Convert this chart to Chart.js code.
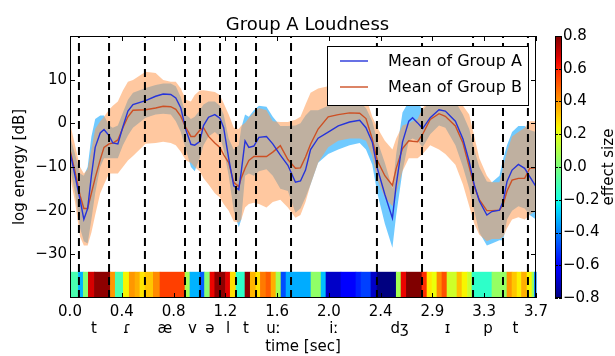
<!DOCTYPE html>
<html>
<head>
<meta charset="utf-8">
<script src="https://cdn.jsdelivr.net/npm/chart.js@4.4.1/dist/chart.umd.min.js"></script>
<style>
  html, body { margin: 0; padding: 0; background: #fff; }
</style>
</head>
<body>
<canvas id="loudness" width="615" height="356"></canvas>
<script>
// time axis (sec) shared by all curves
const times = [0.00, 0.04, 0.08, 0.11, 0.14, 0.17, 0.20, 0.24, 0.27, 0.31, 0.34, 0.38, 0.42, 0.46, 0.50, 0.60, 0.68, 0.74, 0.80, 0.84, 0.88, 0.92,
  0.96, 0.99, 1.03, 1.06, 1.10, 1.15, 1.19, 1.22, 1.26, 1.30, 1.34, 1.36, 1.39, 1.42, 1.46, 1.50, 1.56, 1.61, 1.67, 1.73, 1.79, 1.83, 1.87, 1.91,
  1.97, 2.05, 2.13, 2.22, 2.30, 2.35, 2.40, 2.44, 2.50, 2.56, 2.59, 2.64, 2.69, 2.72, 2.76, 2.80, 2.86, 2.93, 2.98, 3.06, 3.12, 3.17, 3.21, 3.25,
  3.31, 3.35, 3.41, 3.44, 3.47, 3.51, 3.56, 3.61, 3.65, 3.70];

const meanA = [-6.5, -12.0, -17.5, -22.0, -19.5, -12.0, -5.5, -2.2, -1.4, -2.8, -4.5, -4.7, -0.8, 2.8, 4.3, 5.2, 6.2, 6.7, 6.6, 5.8, 3.5, -1.5,
  -4.8, -5.0, -4.2, -0.5, 1.4, 2.0, 1.2, -1.0, -8.0, -14.3, -15.2, -11.0, -4.0, -5.5, -5.2, -3.2, -3.0, -4.7, -7.3, -9.6, -13.5, -13.2, -10.7, -6.0,
  -3.4, -2.0, -0.6, 0.3, 0.7, -1.0, -4.3, -10.3, -16.3, -21.7, -14.1, -4.3, 0.5, 1.3, 0.1, -1.2, 1.3, 3.1, 2.8, 0.5, -3.6, -8.8, -14.1, -17.8,
  -21.0, -20.2, -19.9, -17.8, -13.3, -10.7, -9.4, -10.3, -12.2, -14.5];
const meanB = [-6.0, -11.0, -16.5, -19.5, -19.5, -16.0, -12.5, -8.3, -5.5, -4.7, -4.5, -3.8, -1.0, 1.5, 3.0, 3.1, 3.5, 3.9, 3.8, 3.2, 1.6, -1.0,
  -3.0, -3.0, -1.6, -1.0, -3.0, -4.5, -5.5, -7.2, -9.0, -13.5, -14.5, -12.5, -10.3, -8.5, -7.6, -7.6, -7.6, -6.6, -5.1, -8.3, -10.3, -10.2, -7.7, -4.8,
  -1.3, 1.5, 2.0, 2.4, 2.3, 1.1, -3.6, -8.5, -12.0, -14.2, -10.3, -5.8, -4.0, -4.1, -4.2, -2.5, 0.9, 2.2, 1.6, -0.6, -4.5, -10.0, -14.5, -17.5,
  -20.0, -20.0, -19.9, -18.5, -15.5, -13.0, -12.6, -12.6, -10.3, -10.2];
const upperA = [-3.0, -7.0, -11.5, -12.0, -10.0, -3.0, 1.0, 1.8, 1.8, -0.5, -1.0, -0.5, 2.5, 5.4, 7.0, 8.1, 8.8, 9.1, 9.1, 8.5, 6.0, 2.0,
  1.0, 1.5, 3.0, 4.3, 5.0, 5.0, 4.0, 2.0, -3.5, -6.0, -5.0, -1.0, 2.0, 1.5, 3.0, 4.0, 3.8, 1.5, -0.6, -0.6, -0.5, 0.0, 1.8, 3.0,
  3.0, 4.0, 4.5, 4.8, 4.8, 3.5, 0.5, -4.0, -9.0, -15.0, -7.0, 2.5, 5.0, 6.0, 5.0, 3.0, 5.0, 6.0, 6.0, 5.0, 2.0, -1.3, -6.0, -10.0,
  -13.3, -13.5, -12.0, -8.0, -5.0, -2.0, -0.6, -0.6, -1.5, -2.0];
const lowerA = [-10.0, -16.0, -24.0, -27.0, -27.5, -22.0, -16.0, -10.0, -8.0, -8.0, -8.0, -8.0, -5.0, -2.8, -1.0, 1.3, 2.0, 2.2, 2.0, 0.5, -2.0, -6.0,
  -10.0, -11.0, -8.0, -5.0, -3.0, -2.0, -3.0, -6.0, -12.0, -20.0, -23.8, -22.0, -12.0, -11.5, -12.0, -11.0, -10.5, -12.0, -15.0, -15.5, -20.5, -19.5, -17.0, -14.0,
  -9.0, -7.0, -6.0, -5.0, -4.5, -6.0, -9.5, -16.0, -23.0, -28.5, -21.0, -11.0, -4.0, -3.5, -4.0, -5.5, -2.5, -0.5, -1.0, -5.0, -10.0, -15.0, -20.0, -25.0,
  -28.0, -27.5, -26.8, -26.8, -22.0, -20.0, -19.0, -19.5, -21.0, -22.0];
const upperB = [0.0, -5.0, -10.0, -11.5, -10.5, -6.0, -1.3, 0.5, 1.5, 3.1, 4.0, 5.0, 7.5, 9.5, 9.9, 11.8, 11.5, 9.9, 9.5, 9.5, 8.0, 5.4,
  5.0, 6.5, 7.5, 7.6, 7.4, 7.2, 6.5, 4.6, 2.0, -1.0, -1.3, -0.5, 0.1, 1.2, 2.4, 3.5, 3.0, 0.5, 0.3, 0.3, 0.8, 1.5, 4.3, 7.0,
  8.0, 8.5, 9.0, 9.0, 8.5, 6.0, 1.5, -1.0, -4.0, -6.0, -3.5, -0.5, 0.0, 0.5, 1.0, 3.5, 5.5, 6.0, 6.5, 6.0, 4.0, 2.0, -3.0, -8.0,
  -12.0, -13.5, -13.5, -10.0, -6.5, -3.0, -2.0, -1.0, 0.5, 0.5];
const lowerB = [-12.0, -18.0, -26.0, -28.0, -28.0, -25.0, -21.0, -16.0, -14.0, -11.5, -11.5, -11.5, -10.0, -8.5, -7.5, -4.7, -4.5, -4.2, -4.5, -5.0, -6.5, -8.5,
  -9.0, -10.0, -11.0, -12.6, -14.0, -16.0, -17.0, -18.5, -20.0, -22.5, -22.7, -22.0, -19.3, -18.5, -18.2, -18.5, -19.3, -18.0, -17.5, -19.3, -21.6, -21.0, -18.0, -14.0,
  -9.0, -5.5, -4.0, -3.5, -3.5, -4.0, -7.5, -13.0, -17.0, -19.0, -16.0, -11.0, -8.0, -8.0, -8.0, -7.0, -5.0, -6.0, -7.0, -9.5, -14.0, -19.0, -23.0, -25.5,
  -27.0, -26.5, -26.5, -26.0, -24.0, -22.0, -21.5, -22.0, -21.0, -20.0];

// phoneme boundaries (sec) and the phonemes between them
const boundaries = [0.071, 0.310, 0.595, 0.913, 1.032, 1.191, 1.318, 1.477, 1.755, 2.437, 2.795, 3.200, 3.438, 3.636];
const phonemes = ['t', 'ɾ', 'æ', 'v', 'ə', 'l', 't', 'uː', 'iː', 'dʒ', 'ɪ', 'p', 't'];

// effect size strip: segment start times and values
const effectStarts = [0, 0.064, 0.103, 0.143, 0.191, 0.318, 0.357, 0.421, 0.468, 0.514, 0.553, 0.593, 0.659, 0.712, 0.911, 0.950, 1.030, 1.066,
  1.109, 1.147, 1.233, 1.270, 1.316, 1.387, 1.429, 1.474, 1.509, 1.554, 1.594, 1.633, 1.673, 1.713, 1.911, 1.991, 2.030, 2.149, 2.268, 2.308,
  2.387, 2.435, 2.588, 2.626, 2.668, 2.792, 2.832, 2.872, 2.911, 2.951, 2.991, 3.070, 3.110, 3.154, 3.189, 3.348, 3.467, 3.507, 3.547, 3.582,
  3.626, 3.666, 3.684];
const effectValues = [-0.10, -0.32, 0.02, 0.68, 0.78, 0.40, -0.10, 0.24, 0.40, 0.36, 0.27, 0.32, 0.42, 0.55, 0.08, -0.32, -0.45, 0.02,
  0.65, 0.78, 0.66, 0.28, -0.15, 0.78, 0.35, 0.27, 0.45, 0.50, 0.36, 0.08, -0.48, -0.33, 0.04, -0.30, -0.70, -0.62, -0.55, -0.50,
  -0.70, -0.80, 0.08, 0.65, 0.80, 0.58, 0.26, 0.22, 0.42, 0.52, 0.16, 0.33, 0.24, 0.15, -0.15, 0.05, 0.40, 0.32, 0.25, 0.36,
  0.24, 0.05, -0.40];

const xTickLabels = ['0.0', '0.4', '0.8', '1.2', '1.6', '2.0', '2.4', '2.9', '3.3', '3.7'];
const yTicks = [-30, -20, -10, 0, 10];
const cbTicks = [-0.8, -0.6, -0.4, -0.2, 0.0, 0.2, 0.4, 0.6, 0.8];

const xMax = 3.7, yMin = -40, yMax = 20, stripTop = -34, cbMin = -0.8, cbMax = 0.8;
const FONT = '"DejaVu Sans"';
const minus = s => s.replace('-', '\u2212');

function pts(ys) { return times.map((t, i) => ({x: t, y: ys[i]})); }

function jet(v) {
  const n = Math.min(1, Math.max(0, (v - cbMin) / (cbMax - cbMin)));
  const seg = p => {
    for (let i = 1; i < p.length; i++) {
      if (n <= p[i][0]) return p[i-1][1] + (p[i][1] - p[i-1][1]) * (n - p[i-1][0]) / (p[i][0] - p[i-1][0]);
    }
    return p[p.length - 1][1];
  };
  const r = seg([[0, 0], [0.35, 0], [0.66, 1], [0.89, 1], [1, 0.5]]);
  const g = seg([[0, 0], [0.125, 0], [0.375, 1], [0.64, 1], [0.91, 0], [1, 0]]);
  const b = seg([[0, 0.5], [0.11, 1], [0.34, 1], [0.65, 0], [1, 0]]);
  return 'rgb(' + Math.round(r * 255) + ',' + Math.round(g * 255) + ',' + Math.round(b * 255) + ')';
}

const boundaryPts = [];
boundaries.forEach(b => { boundaryPts.push({x: b, y: yMin}, {x: b, y: yMax}, {x: b, y: null}); });

const stripPlugin = {
  id: 'effectStrip',
  beforeDatasetsDraw(chart) {
    const {ctx, scales: {x, y}} = chart;
    const top = y.getPixelForValue(stripTop), bottom = y.getPixelForValue(yMin);
    ctx.save();
    effectStarts.forEach((t0, i) => {
      const t1 = i + 1 < effectStarts.length ? effectStarts[i + 1] : xMax;
      const x0 = x.getPixelForValue(t0), x1 = x.getPixelForValue(t1);
      ctx.fillStyle = jet(effectValues[i]);
      ctx.fillRect(x0, top, x1 - x0 + 0.6, bottom - top);
    });
    ctx.restore();
  }
};

const framePlugin = {
  id: 'frame',
  afterDatasetsDraw(chart) {
    const {ctx, chartArea: a, scales: {x, y}} = chart;
    ctx.save();
    ctx.strokeStyle = '#000';
    ctx.lineWidth = 1;
    ctx.beginPath();
    x.ticks.forEach(t => {
      const px = Math.round(x.getPixelForValue(t.value)) + 0.5;
      ctx.moveTo(px, a.bottom); ctx.lineTo(px, a.bottom - 5);
      ctx.moveTo(px, a.top); ctx.lineTo(px, a.top + 5);
    });
    y.ticks.forEach(t => {
      const py = Math.round(y.getPixelForValue(t.value)) + 0.5;
      ctx.moveTo(a.left, py); ctx.lineTo(a.left + 5, py);
      ctx.moveTo(a.right, py); ctx.lineTo(a.right - 5, py);
    });
    ctx.stroke();
    ctx.strokeRect(Math.round(a.left) + 0.5, Math.round(a.top) + 0.5, Math.round(a.width) - 1, Math.round(a.height) - 1);
    ctx.restore();
  }
};

const legendPlugin = {
  id: 'insideLegend',
  afterDatasetsDraw(chart) {
    const {ctx, chartArea: a} = chart;
    const items = chart.data.datasets.filter(d => d.label);
    ctx.save();
    ctx.font = '16px ' + FONT;
    const textW = Math.max(...items.map(d => ctx.measureText(d.label).width));
    const w = Math.round(13 + 28 + 20 + textW + 6), h = 59;
    const left = Math.round(a.right - 8 - w), top = Math.round(a.top + 10);
    ctx.fillStyle = '#fff';
    ctx.fillRect(left, top, w, h);
    ctx.strokeStyle = '#000';
    ctx.lineWidth = 1;
    ctx.strokeRect(left + 0.5, top + 0.5, w, h);
    items.forEach((d, i) => {
      const cy = top + 15 + i * 26;
      ctx.strokeStyle = d.borderColor;
      ctx.lineWidth = d.borderWidth;
      ctx.beginPath(); ctx.moveTo(left + 13, cy); ctx.lineTo(left + 41, cy); ctx.stroke();
      ctx.fillStyle = '#000';
      ctx.textBaseline = 'middle';
      ctx.fillText(d.label, left + 61, cy + 1);
    });
    ctx.restore();
  }
};

const colorbarPlugin = {
  id: 'colorbar',
  afterDraw(chart) {
    const {ctx, chartArea: a, scales: {cb}} = chart;
    const left = Math.round(a.right) + 19, w = 7, top = cb.top, bottom = cb.bottom;
    ctx.save();
    const grad = ctx.createLinearGradient(0, bottom, 0, top);
    for (let k = 0; k <= 40; k++) grad.addColorStop(k / 40, jet(cbMin + (cbMax - cbMin) * k / 40));
    ctx.fillStyle = grad;
    ctx.fillRect(left, top, w, bottom - top);
    ctx.strokeStyle = '#000';
    ctx.lineWidth = 1;
    ctx.strokeRect(left + 0.5, Math.round(top) + 0.5, w - 1, Math.round(bottom - top) - 1);
    ctx.beginPath();
    cb.ticks.forEach(t => {
      const py = Math.round(cb.getPixelForValue(t.value)) + 0.5;
      ctx.moveTo(left, py); ctx.lineTo(left + 3, py);
      ctx.moveTo(left + w - 3, py); ctx.lineTo(left + w, py);
    });
    ctx.stroke();
    ctx.translate(609, (top + bottom) / 2);
    ctx.rotate(-Math.PI / 2);
    ctx.font = '15px ' + FONT;
    ctx.fillStyle = '#000';
    ctx.textAlign = 'center';
    ctx.textBaseline = 'middle';
    ctx.fillText('effect size', 0, 0);
    ctx.restore();
  }
};

Chart.defaults.font.family = FONT;
Chart.defaults.font.size = 15;
Chart.defaults.color = '#000';

new Chart(document.getElementById('loudness'), {
  type: 'line',
  data: {
    datasets: [
      {data: boundaryPts, borderColor: '#000', borderWidth: 2, borderDash: [8, 5], pointRadius: 0, spanGaps: false},
      {label: 'Mean of Group A', data: pts(meanA), borderColor: 'rgb(38,52,218)', borderWidth: 1.4, pointRadius: 0},
      {label: 'Mean of Group B', data: pts(meanB), borderColor: 'rgb(205,80,36)', borderWidth: 1.4, pointRadius: 0},
      {data: pts(upperB), borderWidth: 0, pointRadius: 0, fill: '+1', backgroundColor: 'rgba(255,155,82,0.55)'},
      {data: pts(lowerB), borderWidth: 0, pointRadius: 0},
      {data: pts(upperA), borderWidth: 0, pointRadius: 0, fill: '+1', backgroundColor: 'rgba(0,160,255,0.56)'},
      {data: pts(lowerA), borderWidth: 0, pointRadius: 0}
    ]
  },
  options: {
    responsive: false,
    animation: false,
    events: [],
    elements: {line: {tension: 0}},
    layout: {padding: 0},
    plugins: {
      legend: {display: false},
      tooltip: {enabled: false},
      title: {
        display: true,
        text: 'Group A Loudness',
        font: {size: 18, weight: 'normal'},
        color: '#000',
        padding: {top: 11, bottom: 0}
      }
    },
    scales: {
      x: {
        type: 'linear', position: 'bottom', weight: 1,
        min: 0, max: xMax,
        afterBuildTicks: s => { s.ticks = xTickLabels.map((l, i) => ({value: i * xMax / 9})); },
        grid: {display: false, drawTicks: false},
        border: {display: false},
        ticks: {padding: 5, autoSkip: false, maxRotation: 0, callback: (v, i) => xTickLabels[i]},
        afterFit: s => { s.height = 20; }
      },
      xp: {
        type: 'linear', axis: 'x', position: 'bottom', weight: 2,
        min: 0, max: xMax,
        afterBuildTicks: s => {
          s.ticks = phonemes.map((p, i) => ({value: (boundaries[i] + boundaries[i + 1]) / 2}));
        },
        grid: {display: false, drawTicks: false},
        border: {display: false},
        ticks: {padding: 2, autoSkip: false, maxRotation: 0, callback: (v, i) => phonemes[i]},
        title: {display: true, text: 'time [sec]', font: {size: 15}, padding: {top: 0, bottom: 0}},
        afterFit: s => { s.height = 38; }
      },
      y: {
        type: 'linear', position: 'left',
        min: yMin, max: yMax,
        afterBuildTicks: s => { s.ticks = yTicks.map(v => ({value: v})); },
        grid: {display: false, drawTicks: false},
        border: {display: false},
        ticks: {padding: 3, callback: v => minus(String(v))},
        title: {display: true, text: 'log energy [dB]', font: {size: 15}, padding: {top: 11, bottom: 0}},
        afterFit: s => { s.width = 70; }
      },
      cb: {
        type: 'linear', axis: 'y', position: 'right',
        min: cbMin, max: cbMax,
        afterBuildTicks: s => { s.ticks = cbTicks.map(v => ({value: v})); },
        grid: {display: false, drawTicks: false},
        border: {display: false},
        ticks: {padding: 27, callback: v => minus(v.toFixed(1))},
        afterFit: s => { s.width = 79; }
      }
    }
  },
  plugins: [stripPlugin, framePlugin, legendPlugin, colorbarPlugin]
});
</script>
</body>
</html>
